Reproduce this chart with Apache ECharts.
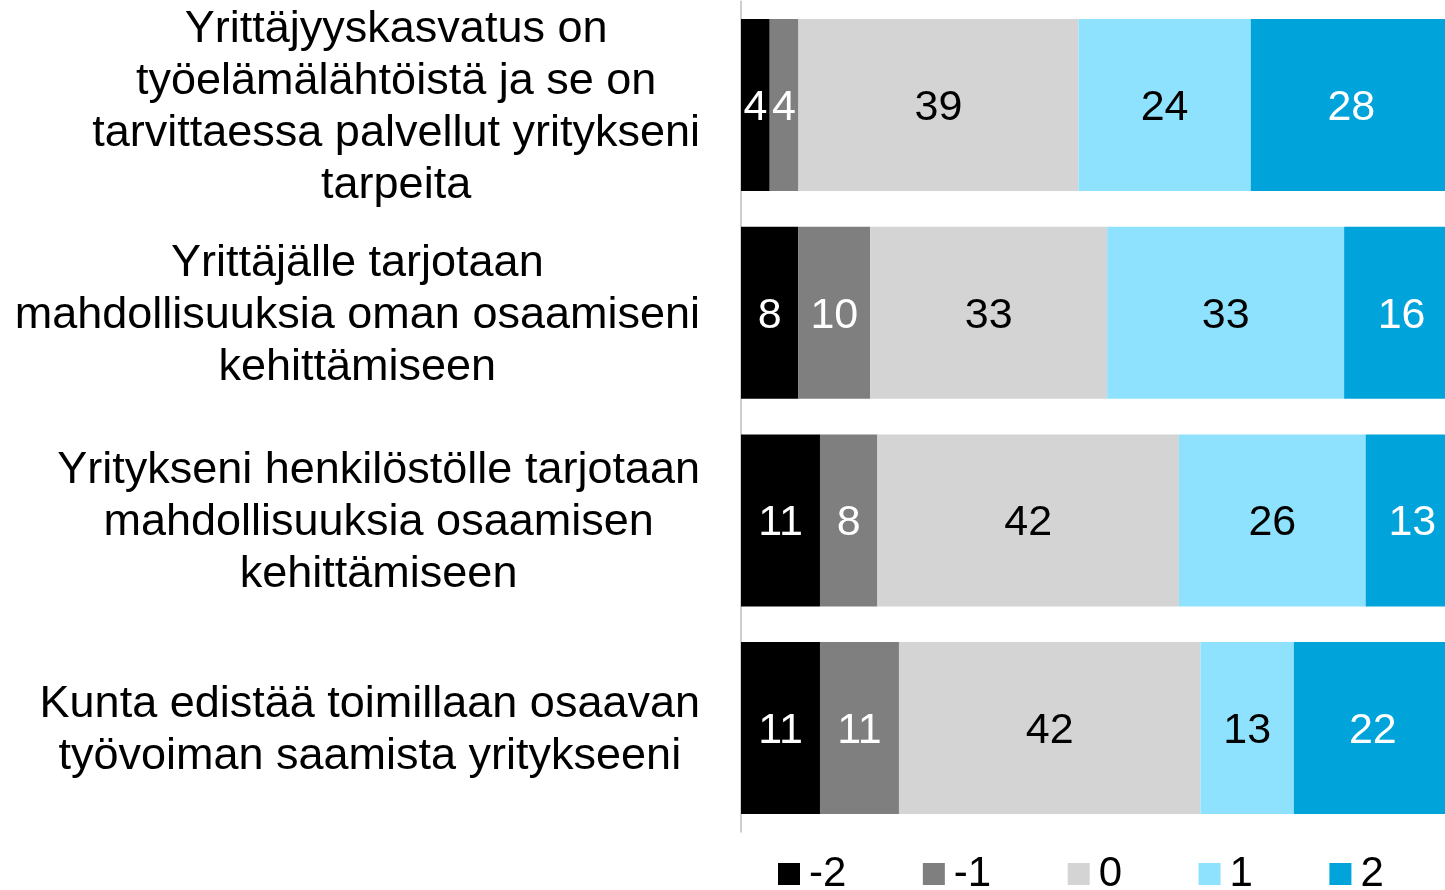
<!DOCTYPE html>
<html>
<head>
<meta charset="utf-8">
<script src="https://cdn.jsdelivr.net/npm/echarts@6/dist/echarts.min.js"></script>
<style>
html,body{margin:0;padding:0;background:#fff;}
#chart{width:1445px;height:890px;}
</style>
</head>
<body>
<div id="chart"></div>
<script>
const categories = [
  "Yrittäjyyskasvatus on\ntyöelämälähtöistä ja se on\ntarvittaessa palvellut yritykseni\ntarpeita",
  "Yrittäjälle tarjotaan\nmahdollisuuksia oman osaamiseni\nkehittämiseen",
  "Yritykseni henkilöstölle tarjotaan\nmahdollisuuksia osaamisen\nkehittämiseen",
  "Kunta edistää toimillaan osaavan\ntyövoiman saamista yritykseeni"
];
const seriesNames = ["-2", "-1", "0", "1", "2"];
const valuesMinus2 = [4, 8, 11, 11];
const valuesMinus1 = [4, 10, 8, 11];
const values0 = [39, 33, 42, 42];
const values1 = [24, 33, 26, 13];
const values2 = [28, 16, 13, 22];
const seriesValues = [valuesMinus2, valuesMinus1, values0, values1, values2];
const colors = ["#000000", "#7f7f7f", "#d4d4d4", "#8ee2fe", "#00a3da"];
const labelColors = ["#ffffff", "#ffffff", "#000000", "#000000", "#ffffff"];

const FONT = "'Liberation Sans', Arial, sans-serif";
const chart = echarts.init(document.getElementById('chart'));
chart.setOption({
  animation: false,
  backgroundColor: '#ffffff',
  legend: {
    data: seriesNames,
    left: 778,
    top: 852,
    padding: 0,
    itemWidth: 22,
    itemHeight: 22,
    itemGap: 76.5,
    icon: 'rect',
    textStyle: { fontSize: 42, fontFamily: FONT, color: '#000', lineHeight: 42, padding: [2, 0, 0, 4] }
  },
  grid: { left: 741, width: 718, top: 1.2, height: 830.7, containLabel: false, outerBoundsMode: 'none' },
  xAxis: {
    type: 'value', min: 0, max: 100, show: false
  },
  yAxis: {
    type: 'category',
    inverse: true,
    data: categories,
    axisLine: { show: true, lineStyle: { color: '#bfbfbf', width: 1.5 } },
    axisTick: { show: false },
    axisLabel: {
      margin: 41,
      align: 'right',
      lineHeight: 52,
      fontSize: 45,
      fontFamily: FONT,
      color: '#000',
      padding: [5, 0, 0, 0],
      formatter: function (v) {
        return v.split('\n').map(l => '{c|' + l + '}').join('\n');
      },
      rich: { c: { align: 'center', fontSize: 45, lineHeight: 52, fontFamily: FONT, color: '#000' } }
    }
  },
  series: seriesNames.map((n, i) => ({
    name: n,
    type: 'bar',
    stack: 'total',
    barWidth: 172,
    data: seriesValues[i],
    itemStyle: { color: colors[i] },
    label: {
      show: true,
      position: 'inside',
      offset: [0, 3],
      fontSize: 43,
      fontFamily: FONT,
      color: labelColors[i]
    }
  }))
});
</script>
</body>
</html>
